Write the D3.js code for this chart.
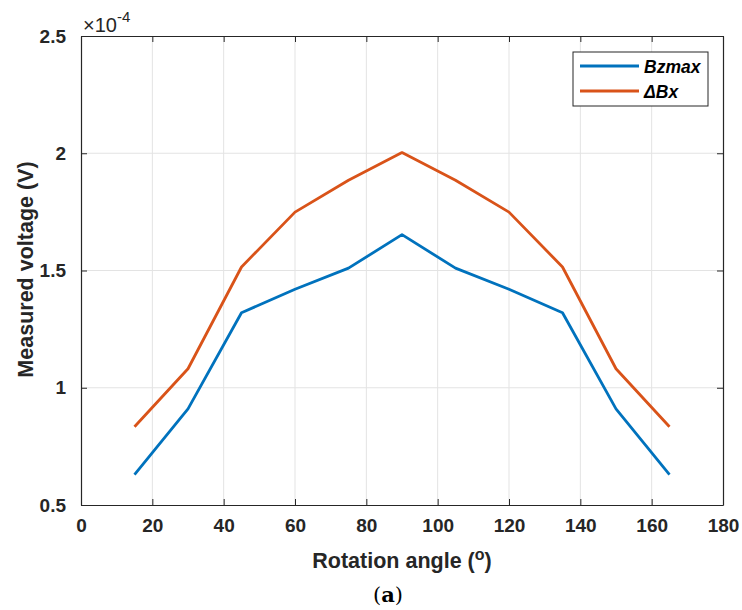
<!DOCTYPE html>
<html>
<head>
<meta charset="utf-8">
<script src="https://cdn.jsdelivr.net/npm/d3@7"></script>
<style>
  body { margin: 0; background: #fff; }
  svg text { font-family: "Liberation Sans", Arial, sans-serif; }
  .grid line { stroke: #e3e3e3; stroke-width: 1; }
  .axis text { font-size: 19px; font-weight: bold; fill: #262626; font-family: "Liberation Sans", Arial, sans-serif; }
  .axis line, .axis path { stroke: #262626; }
</style>
</head>
<body>
<svg id="chart"></svg>
<script>
// data (values in units of 1e-4 V)
const angles = [15, 30, 45, 60, 75, 90, 105, 120, 135, 150, 165];
const bzmax  = [0.63, 0.91, 1.32, 1.42, 1.51, 1.653, 1.51, 1.42, 1.32, 0.91, 0.63];
const deltaBx = [0.834, 1.081, 1.515, 1.749, 1.885, 2.003, 1.885, 1.749, 1.515, 1.081, 0.834];
const xTicks = [0, 20, 40, 60, 80, 100, 120, 140, 160, 180];
const yTicks = [0.5, 1, 1.5, 2, 2.5];
const seriesNames = ['Bzmax', '\u0394Bx'];
const colors = ['#0072BD', '#D95319'];

const W = 742, H = 610;
const M = { top: 36, right: 19, bottom: 105, left: 81 };
const iw = W - M.left - M.right;
const ih = H - M.top - M.bottom;

const svg = d3.select('#chart').attr('width', W).attr('height', H);
const g = svg.append('g').attr('transform', `translate(${M.left},${M.top})`);

const x = d3.scaleLinear().domain([0, 180]).range([0, iw]);
const y = d3.scaleLinear().domain([0.5, 2.5]).range([ih, 0]);

// grid
g.append('g').attr('class', 'grid')
  .selectAll('line.v').data(xTicks.slice(1, -1)).join('line')
  .attr('x1', d => x(d)).attr('x2', d => x(d)).attr('y1', 0).attr('y2', ih);
g.append('g').attr('class', 'grid')
  .selectAll('line.h').data(yTicks.slice(1, -1)).join('line')
  .attr('x1', 0).attr('x2', iw).attr('y1', d => y(d)).attr('y2', d => y(d));

// axes, ticks inward like MATLAB
g.append('g').attr('class', 'axis')
  .attr('transform', `translate(0,${ih})`)
  .call(d3.axisBottom(x).tickValues(xTicks).tickSizeInner(-6).tickSizeOuter(0).tickPadding(14))
  .call(a => a.select('.domain').attr('stroke-width', 1.2));
g.append('g').attr('class', 'axis')
  .call(d3.axisLeft(y).tickValues(yTicks).tickFormat(d3.format('')).tickSizeInner(-6).tickSizeOuter(0).tickPadding(15))
  .call(a => a.select('.domain').attr('stroke-width', 1.2));
g.append('g').attr('class', 'axis')
  .call(d3.axisTop(x).tickValues(xTicks).tickSizeInner(-6).tickSizeOuter(0).tickFormat(''))
  .call(a => a.select('.domain').attr('stroke-width', 1.2));
g.append('g').attr('class', 'axis')
  .attr('transform', `translate(${iw},0)`)
  .call(d3.axisRight(y).tickValues(yTicks).tickSizeInner(-6).tickSizeOuter(0).tickFormat(''))
  .call(a => a.select('.domain').attr('stroke-width', 1.2));

// lines
const line = d3.line().x((d, i) => x(angles[i])).y(d => y(d));
[bzmax, deltaBx].forEach((s, k) => {
  g.append('path').datum(s)
    .attr('fill', 'none')
    .attr('stroke', colors[k])
    .attr('stroke-width', 2.8)
    .attr('stroke-linejoin', 'round')
    .attr('d', line);
});

// exponent label
const ex = svg.append('text').attr('x', 83).attr('y', 32)
  .attr('font-size', 20).attr('fill', '#262626');
ex.append('tspan').text('\u00d710');
ex.append('tspan').attr('dy', -10).attr('font-size', 15).text('-4');

// axis labels
svg.append('text')
  .attr('x', M.left + iw / 2).attr('y', 568)
  .attr('text-anchor', 'middle').attr('font-size', 21.5).attr('font-weight', 'bold').attr('fill', '#262626')
  .call(t => {
    t.append('tspan').text('Rotation angle (');
    t.append('tspan').attr('dy', -8).attr('font-size', 16).text('o');
    t.append('tspan').attr('dy', 8).text(')');
  });
svg.append('text')
  .attr('transform', `translate(33,${M.top + ih / 2 - 1}) rotate(-90)`)
  .attr('text-anchor', 'middle').attr('font-size', 21.5).attr('font-weight', 'bold').attr('fill', '#262626')
  .text('Measured voltage (V)');

svg.append('text')
  .attr('x', M.left + iw / 2 - 14).attr('y', 602)
  .attr('text-anchor', 'middle').attr('font-size', 21).attr('fill', '#000')
  .style('font-family', '"DejaVu Serif", "Liberation Serif", serif')
  .call(t => {
    t.append('tspan').text('(');
    t.append('tspan').attr('font-weight', 'bold').text('a');
    t.append('tspan').text(')');
  });

// legend
const lg = svg.append('g').attr('transform', 'translate(573,52)');
lg.append('rect').attr('width', 135).attr('height', 54)
  .attr('fill', '#fff').attr('stroke', '#262626').attr('stroke-width', 1);
seriesNames.forEach((n, k) => {
  const yy = 14 + k * 25;
  lg.append('line').attr('x1', 7).attr('x2', 66).attr('y1', yy).attr('y2', yy)
    .attr('stroke', colors[k]).attr('stroke-width', 2.8);
  lg.append('text').attr('x', 71).attr('y', yy + 6.5)
    .attr('font-size', 17.5).attr('font-weight', 'bold').attr('font-style', 'italic')
    .attr('fill', '#000').text(n);
});
</script>
</body>
</html>
